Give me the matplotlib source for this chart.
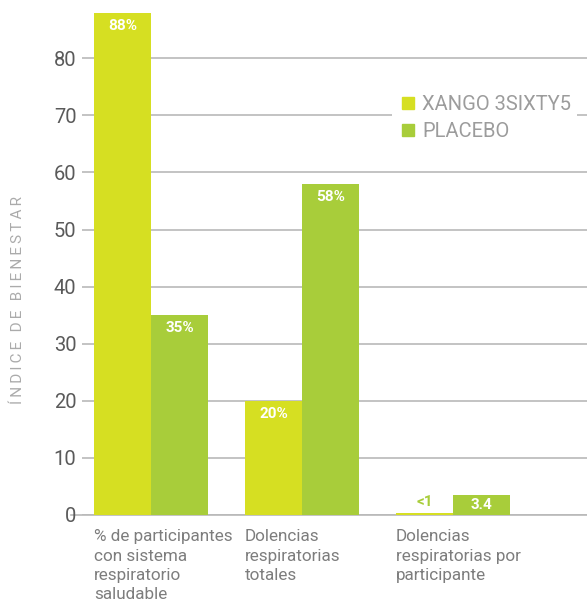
import numpy as np
import matplotlib.pyplot as plt
from matplotlib.lines import Line2D

plt.rcParams['font.family'] = ['Roboto', 'DejaVu Sans']

categories = ["% de participantes\ncon sistema\nrespiratorio\nsaludable",
              "Dolencias\nrespiratorias\ntotales",
              "Dolencias\nrespiratorias por\nparticipante"]
xango = [88, 20, 0.3]
placebo = [35, 58, 3.5]
xango_labels = ["88%", "20%", "<1"]
placebo_labels = ["35%", "58%", "3.4"]
yticks = [0, 10, 20, 30, 40, 50, 60, 70, 80]

c_xango = "#d6df22"
c_placebo = "#a8cd3a"
grid_c = "#b9b9b9"

fig = plt.figure(figsize=(5.87, 6.05), dpi=100)
ax = fig.add_axes([82 / 587, 90 / 605, 1 - 82 / 587, 515 / 605])

x = np.arange(len(categories))
w = 57 / 151
ax.set_xlim(-69 / 151, 436 / 151)
ax.set_ylim(0, 515 / 5.71)

for v in yticks:
    ax.axhline(v, color=grid_c, lw=1.2, zorder=0)
ax.plot([-0.53, 436 / 151], [0, 0], color=grid_c, lw=1.2, clip_on=False, zorder=0)

ax.bar(x - w / 2, xango, w, color=c_xango, zorder=2)
ax.bar(x + w / 2, placebo, w, color=c_placebo, zorder=2)

for i in range(len(categories)):
    if xango[i] > 5:
        ax.text(x[i] - w / 2, xango[i] - 2.3, xango_labels[i], ha="center", va="center",
                color="white", fontsize=11, fontweight="bold", zorder=3)
    else:
        ax.text(x[i] - w / 2, xango[i] + 2.0, xango_labels[i], ha="center", va="center",
                color=c_placebo, fontsize=11, fontweight="bold", zorder=3)
    if placebo[i] > 5:
        ax.text(x[i] + w / 2, placebo[i] - 2.3, placebo_labels[i], ha="center", va="center",
                color="white", fontsize=11, fontweight="bold", zorder=3)
    else:
        ax.text(x[i] + w / 2, placebo[i] / 2, placebo_labels[i], ha="center", va="center",
                color="white", fontsize=11, fontweight="bold", zorder=3)

for i, c in enumerate(categories):
    ax.text(x[i] - w, -2.5, c, ha="left", va="top", color="#7d7d7d",
            fontsize=12.3, linespacing=1.36)

ax.set_yticks(yticks)
ax.set_yticklabels([str(v) for v in yticks])
ax.tick_params(axis="y", length=0, pad=4, labelsize=14.5, labelcolor="#5a5a5a")
ax.set_xticks([])
for s in ax.spines.values():
    s.set_visible(False)

fig.text(18 / 587, 1 - 300 / 605, "Í N D I C E   D E   B I E N E S T A R".replace(" ", "\u2009"),
         rotation=90, ha="center", va="center", color="#ababab", fontsize=11)

handles = [Line2D([], [], marker="s", ls="", color=c_xango, markersize=9),
           Line2D([], [], marker="s", ls="", color=c_placebo, markersize=9)]
leg = ax.legend(handles, ["XANGO 3SIXTY5", "PLACEBO"], loc="upper left",
                bbox_to_anchor=((382 - 82) / 505, 1 - 79 / 515),
                frameon=True, facecolor="white", edgecolor="none", framealpha=1,
                fontsize=14.5, handletextpad=0.2, handlelength=1.0, labelspacing=0.4,
                borderpad=0.3)
for t in leg.get_texts():
    t.set_color("#9c9c9c")

fig.savefig("out.png", dpi=100)
